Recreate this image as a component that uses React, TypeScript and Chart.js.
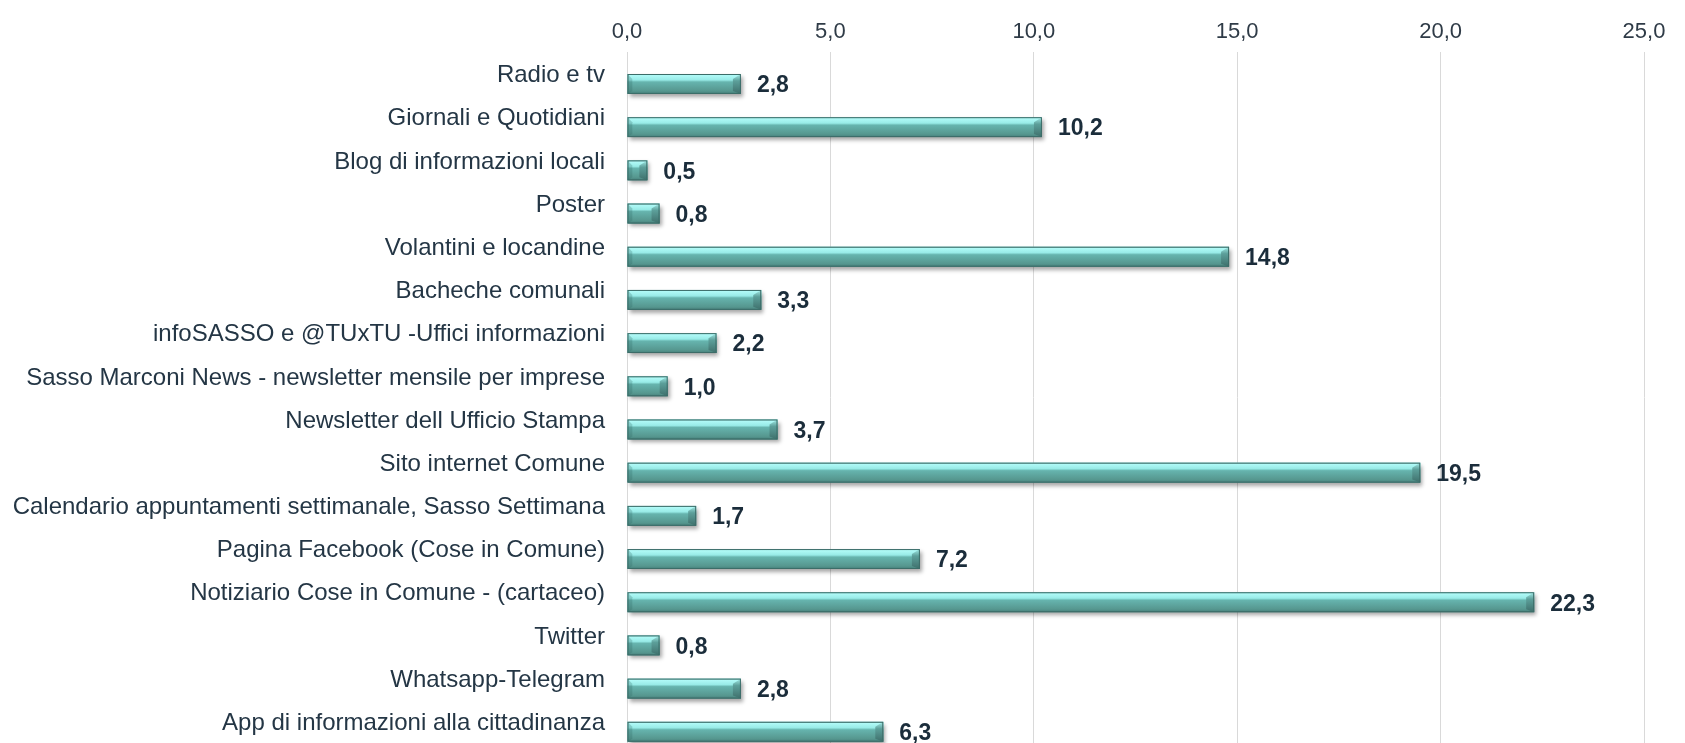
import React, { useEffect, useRef } from "react";
import { Chart, registerables } from "chart.js";

Chart.register(...registerables);

const categories: string[] = [
  "Radio e tv",
  "Giornali e Quotidiani",
  "Blog di informazioni locali",
  "Poster",
  "Volantini e locandine",
  "Bacheche comunali",
  "infoSASSO e @TUxTU -Uffici informazioni",
  "Sasso Marconi News - newsletter mensile per imprese",
  "Newsletter dell Ufficio Stampa",
  "Sito internet Comune",
  "Calendario appuntamenti settimanale, Sasso Settimana",
  "Pagina Facebook (Cose in Comune)",
  "Notiziario Cose in Comune - (cartaceo)",
  "Twitter",
  "Whatsapp-Telegram",
  "App di informazioni alla cittadinanza",
];

const values: number[] = [2.8, 10.2, 0.5, 0.8, 14.8, 3.3, 2.2, 1.0, 3.7, 19.5, 1.7, 7.2, 22.3, 0.8, 2.8, 6.3];

const spacer: (number | null)[] = categories.map(() => null);

const axisMin = 0;
const axisMax = 25;
const axisStep = 5;

const fmt = (v: number) => v.toFixed(1).replace(".", ",");

const barStylePlugin = {
  id: "barStyle",
  afterDatasetsDraw(chart: any) {
    const meta = chart.getDatasetMeta(1);
    const ctx = chart.ctx as CanvasRenderingContext2D;
    const ds = chart.data.datasets[1];
    meta.data.forEach((el: any, i: number) => {
      const left = Math.min(el.base, el.x);
      const right = Math.max(el.base, el.x);
      const h = el.height;
      const top = el.y - h / 2;
      const bottom = el.y + h / 2;
      const w = right - left;
      ctx.save();
      ctx.shadowColor = "rgba(0,0,0,0.35)";
      ctx.shadowBlur = 4;
      ctx.shadowOffsetX = 2;
      ctx.shadowOffsetY = 3;
      const g = ctx.createLinearGradient(0, top, 0, bottom);
      g.addColorStop(0, "#8fd8d4");
      g.addColorStop(0.07, "#b0faf7");
      g.addColorStop(0.3, "#98ebe7");
      g.addColorStop(0.4, "#66b4ae");
      g.addColorStop(0.85, "#56978f");
      g.addColorStop(1, "#46807b");
      ctx.fillStyle = g;
      ctx.fillRect(left, top, w, h);
      ctx.restore();
      ctx.save();
      const bev = Math.min(8, w / 2);
      ctx.beginPath();
      ctx.moveTo(right - bev, top + 5);
      ctx.lineTo(right, top);
      ctx.lineTo(right, bottom);
      ctx.lineTo(right - bev, bottom - 3);
      ctx.closePath();
      const gr = ctx.createLinearGradient(0, top, 0, bottom);
      gr.addColorStop(0, "#a5eeea");
      gr.addColorStop(0.35, "#5c9f9a");
      gr.addColorStop(1, "#3e6f6b");
      ctx.fillStyle = gr;
      ctx.fill();
      ctx.beginPath();
      ctx.moveTo(left, top);
      ctx.lineTo(left + bev * 0.6, top + 5);
      ctx.lineTo(left + bev * 0.6, bottom - 3);
      ctx.lineTo(left, bottom);
      ctx.closePath();
      ctx.fillStyle = "rgba(45,100,95,0.25)";
      ctx.fill();
      ctx.strokeStyle = "#3c6c68";
      ctx.lineWidth = 1;
      ctx.strokeRect(left + 0.5, top + 0.5, w - 1, h - 1);
      ctx.restore();
      ctx.save();
      ctx.font = "bold 23px 'Liberation Sans', Arial, sans-serif";
      ctx.fillStyle = "#1b2d3b";
      ctx.textAlign = "left";
      ctx.textBaseline = "middle";
      ctx.fillText(fmt(ds.data[i] as number), right + 16, el.y + 2);
      ctx.restore();
    });
  },
};

export default function App() {
  const ref = useRef<HTMLCanvasElement>(null);
  useEffect(() => {
    document.body.style.margin = "0";
    if (!ref.current) return;
    const chart = new Chart(ref.current, {
      type: "bar",
      data: {
        labels: categories,
        datasets: [
          { label: "", data: spacer as any, backgroundColor: "rgba(0,0,0,0)" },
          {
            label: "Valori",
            data: values,
            backgroundColor: "#5fb0aa",
            borderWidth: 0,
          },
        ],
      },
      options: {
        indexAxis: "y",
        responsive: false,
        animation: false,
        devicePixelRatio: 1,
        categoryPercentage: 0.96,
        barPercentage: 0.96,
        layout: { padding: { left: 0, right: 41, top: 0, bottom: 0 } },
        plugins: {
          legend: { display: false },
          tooltip: { enabled: false },
        },
        scales: {
          x: {
            position: "top",
            min: axisMin,
            max: axisMax,
            ticks: {
              stepSize: axisStep,
              callback: (v: any) => fmt(Number(v)),
              font: { family: "'Liberation Sans', Arial, sans-serif", size: 22 },
              color: "#2f3b47",
              padding: 7,
            },
            grid: { color: "#d9d9d9", lineWidth: 1, drawTicks: false },
            border: { display: false },
            afterFit: (s: any) => {
              s.height = 52;
            },
          },
          y: {
            grid: { display: false, drawTicks: false },
            border: { display: false },
            ticks: {
              font: { family: "'Liberation Sans', Arial, sans-serif", size: 24 },
              color: "#243645",
              padding: 22,
              labelOffset: 2,
              autoSkip: false,
            },
            afterFit: (s: any) => {
              s.width = 627;
              s.paddingTop = 0;
              s.paddingBottom = 0;
            },
          },
        },
      } as any,
      plugins: [barStylePlugin],
    });
    return () => chart.destroy();
  }, []);
  return (
    <div style={{ width: 1685, height: 743 }}>
      <canvas ref={ref} width={1685} height={743} />
    </div>
  );
}
